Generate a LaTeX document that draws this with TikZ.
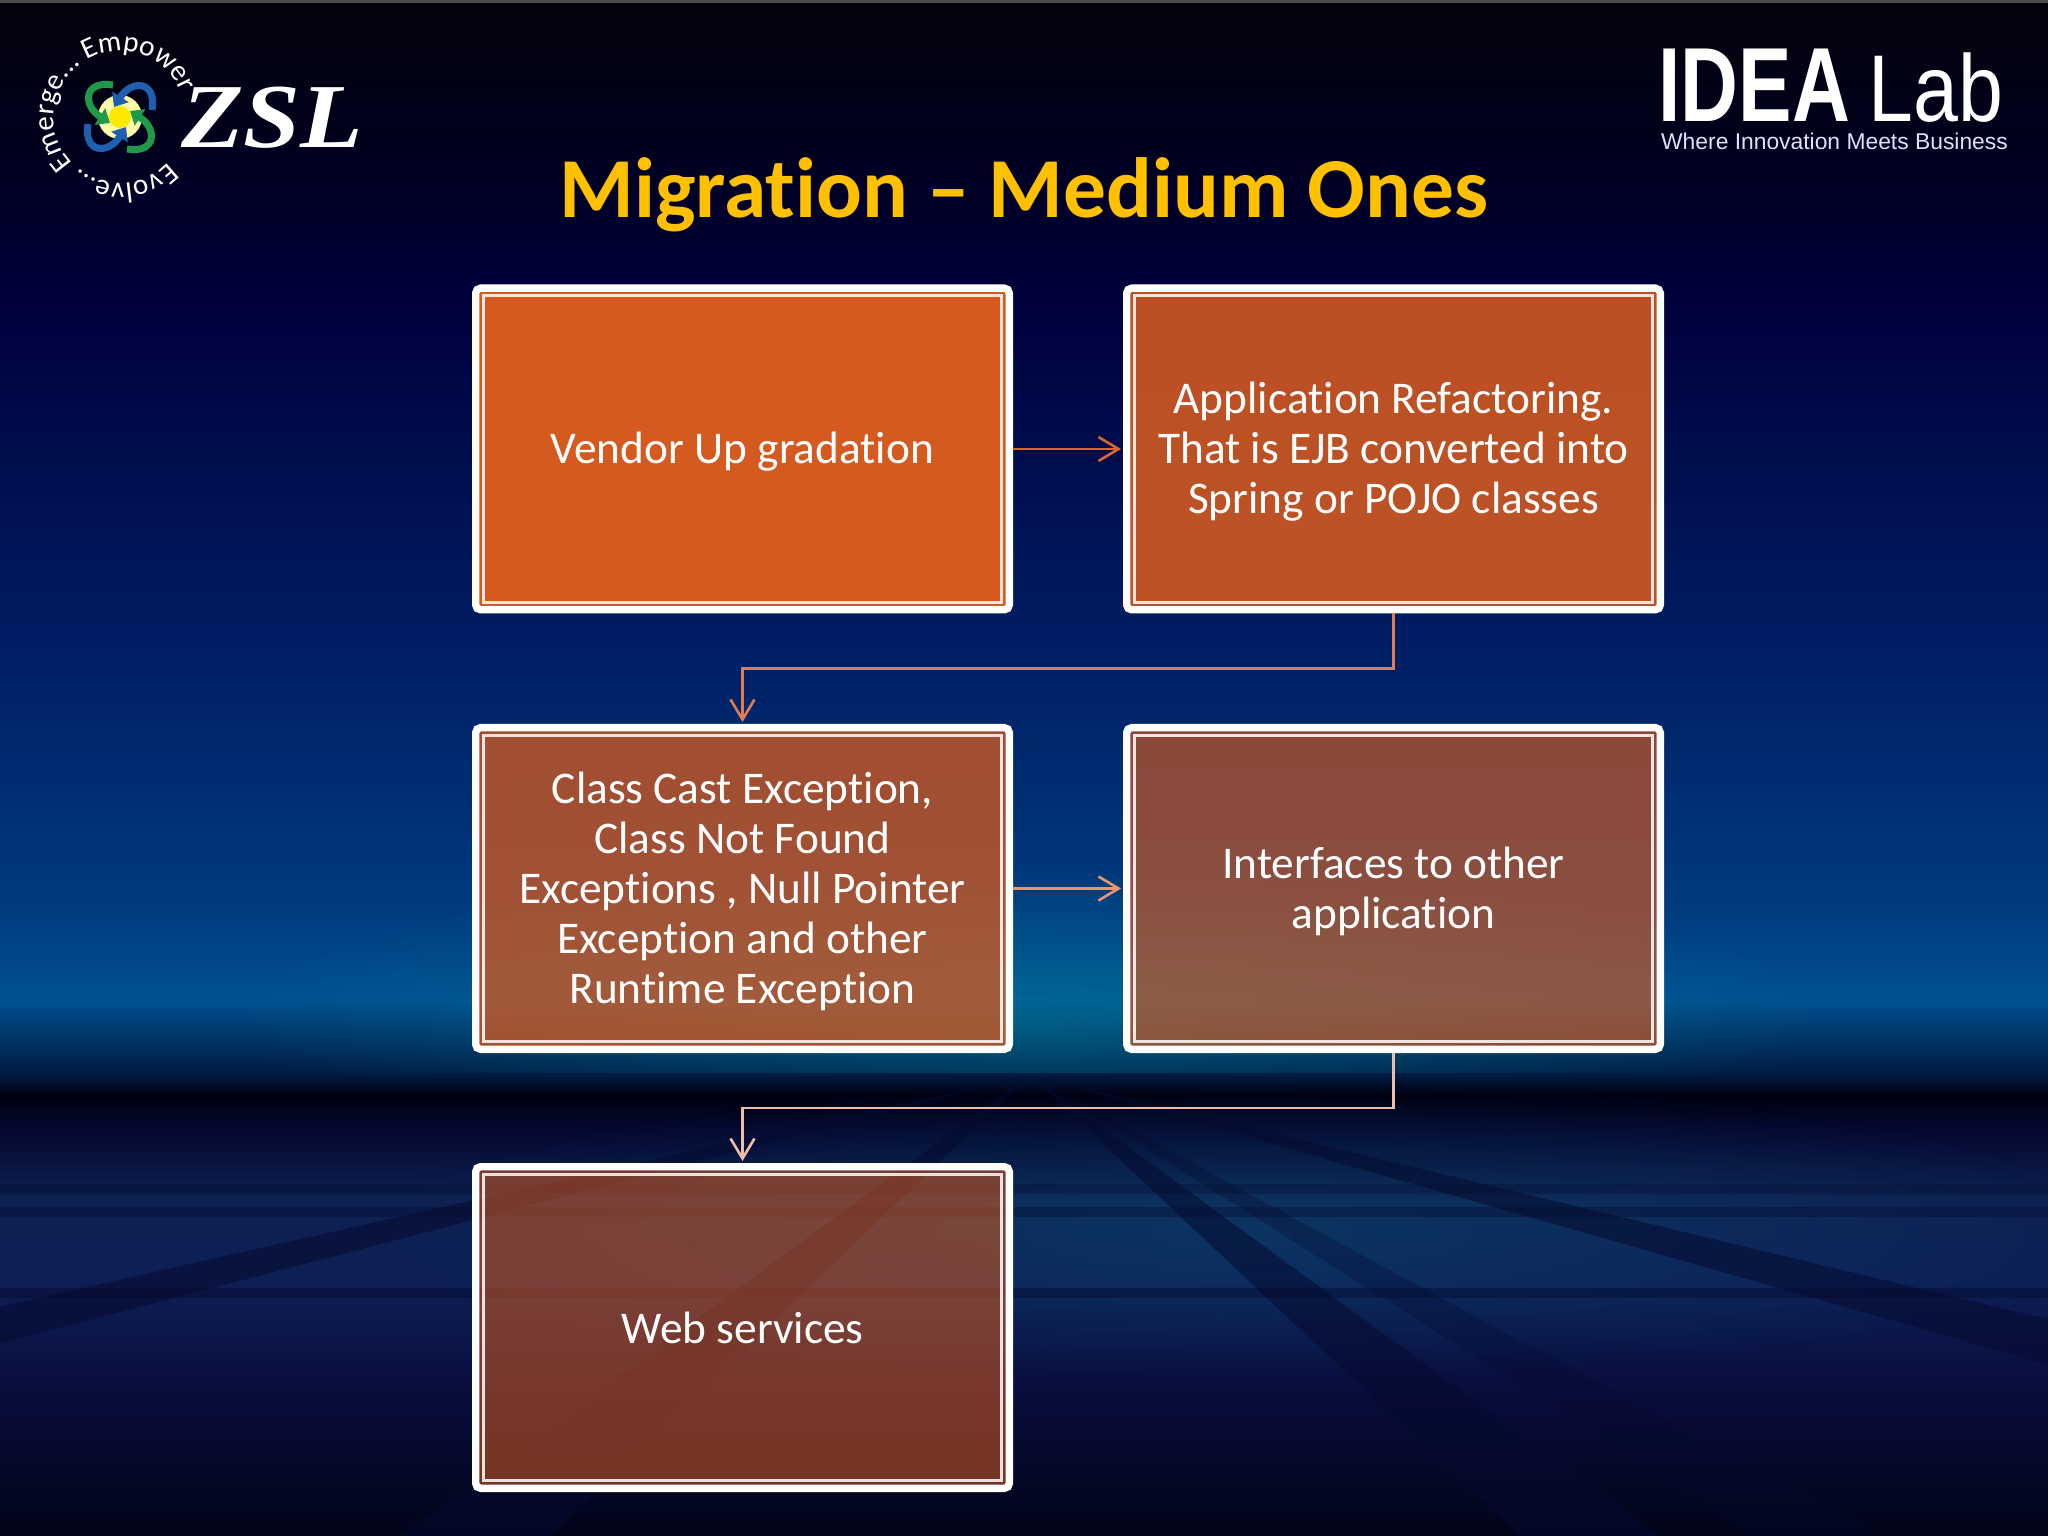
\documentclass[tikz,border=0pt]{standalone}
\usepackage{fontspec}
\setmainfont[Ligatures=NoCommon]{Carlito}
\newfontfamily\zslfont{Liberation Serif}
\newfontfamily\idealab{Liberation Sans}
\usetikzlibrary{arrows.meta, calc, decorations.text, fadings}

\definecolor{boxorange}{HTML}{D45A20}
\definecolor{titlegold}{HTML}{FFC000}
\definecolor{pingreen}{HTML}{1E9A48}
\definecolor{pinblue}{HTML}{1F5FB0}
\definecolor{bandnavy}{HTML}{050A30}
\definecolor{glowteal}{HTML}{008A9E}

% background, bottom to top, the picture runs from 25bp to 75bp
\pgfdeclareverticalshading{slidesky}{100bp}{
  color(0bp)=(rgb,255:red,2;green,4;blue,24);
  color(25bp)=(rgb,255:red,2;green,4;blue,24);
  color(29.43bp)=(rgb,255:red,8;green,12;blue,58);
  color(33.34bp)=(rgb,255:red,14;green,31;blue,85);
  color(35.94bp)=(rgb,255:red,14;green,32;blue,80);
  color(38.22bp)=(rgb,255:red,5;green,8;blue,48);
  color(39.36bp)=(rgb,255:red,0;green,0;blue,16);
  color(40bp)=(rgb,255:red,0;green,26;blue,64);
  color(42.45bp)=(rgb,255:red,0;green,80;blue,143);
  color(45.7bp)=(rgb,255:red,0;green,58;blue,125);
  color(53.85bp)=(rgb,255:red,0;green,30;blue,100);
  color(65.25bp)=(rgb,255:red,0;green,0;blue,60);
  color(70.1bp)=(rgb,255:red,0;green,0;blue,30);
  color(75bp)=(rgb,255:red,3;green,3;blue,12);
  color(100bp)=(rgb,255:red,3;green,3;blue,12)
}
\tikzfading[name=glowfade, inner color=transparent!0, outer color=transparent!100]

\begin{document}
\begin{tikzpicture}[
  stepbox/.style={rectangle, draw=white, line width=.073cm, rounded corners=.05cm,
    fill=boxorange, text=white, text opacity=1, minimum width=5.337cm, minimum height=3.217cm,
    inner sep=0pt, align=center, font=\fontsize{12.9}{14.2}\selectfont,
    path picture={\draw[white, line width=.028cm, draw opacity=.85, sharp corners]
      ($(path picture bounding box.north west)+(.077,-.077)$) rectangle
      ($(path picture bounding box.south east)+(-.077,.077)$);}},
  arr/.style={-{Straight Barb[length=.2cm, width=.24cm]}, line width=.026cm, shorten >=.02cm},
  band/.style={fill=bandnavy, fill opacity=.55},
  swirl/.style={line width=.07cm, -{Triangle[length=.12cm, width=.19cm]}},
]
  \useasboundingbox (0,0) rectangle (20.48,-15.36);
  \begin{scope}
    \clip (0,0) rectangle (20.48,-15.36);
    \fill[shading=slidesky] (0,0) rectangle (20.48,-15.36);
    \fill[black!70!white] (0,0) rectangle (20.48,-.03);

    % glow on the horizon
    \begin{scope}
      \clip (0,-8) rectangle (20.48,-10.72);
      \fill[glowteal, fill opacity=.4, path fading=glowfade] (10.3,-10.2) ellipse (8 and 1.6);
    \end{scope}
    \fill[glowteal, fill opacity=.2, path fading=glowfade] (12.5,-12.3) ellipse (9 and 1.5);

    % floor lines
    \fill[band] (10.3,-10.75) -- (4.0,-15.36) -- (5.5,-15.36) -- cycle;
    \fill[band] (10.3,-10.75) -- (15.2,-15.36) -- (16.6,-15.36) -- cycle;
    \fill[band, fill opacity=.3] (10.3,-10.75) -- (17.6,-15.36) -- (18.8,-15.36) -- cycle;
    \fill[band] (10.3,-10.75) -- (26.5,-15.36) -- (29.5,-15.36) -- cycle;
    \fill[band] (10.3,-10.75) -- (-10.2,-15.36) -- (-7.4,-15.36) -- cycle;
    \fill[band, fill opacity=.3] (0,-11.84) rectangle (20.48,-11.94);
    \fill[band, fill opacity=.35] (0,-12.07) rectangle (20.48,-12.17);
    \fill[band, fill opacity=.45] (0,-12.88) rectangle (20.48,-12.98);
  \end{scope}

  % title
  \node[font=\fontsize{24.3}{26}\selectfont\bfseries, text=titlegold] (title) at (10.24,-1.95) {Migration – Medium Ones};

  % left logo
  \fill[yellow!35!white] (1.2,-1.17) circle (.22);
  \fill[yellow!90!orange] (1.2,-1.17) circle (.11);
  \draw[swirl, pingreen] (1.13,-.85) .. controls (.84,-.8) and (.82,-1.05) .. (1.1,-1.23);
  \draw[swirl, pinblue, rotate around={-90:(1.2,-1.17)}] (1.13,-.85) .. controls (.84,-.8) and (.82,-1.05) .. (1.1,-1.23);
  \draw[swirl, pingreen, rotate around={180:(1.2,-1.17)}] (1.13,-.85) .. controls (.84,-.8) and (.82,-1.05) .. (1.1,-1.23);
  \draw[swirl, pinblue, rotate around={90:(1.2,-1.17)}] (1.13,-.85) .. controls (.84,-.8) and (.82,-1.05) .. (1.1,-1.23);
  \path[decorate, decoration={text along path, text color=white,
    text={|\fontsize{8.3}{10}\selectfont|Emerge... Empower}}]
    (1.2,-1.17) ++(224:.66) arc (224:-20:.66);
  \path[decorate, decoration={text along path, text color=white,
    text={|\fontsize{8.3}{10}\selectfont|Evolve...}}]
    (1.2,-1.17) ++(-43:.66) arc (-43:-170:.66);
  \node[font=\fontsize{26}{26}\zslfont\bfseries\itshape, text=white, xscale=1.12, inner sep=0pt] (zsl) at (2.72,-1.18) {ZSL};

  % right logo
  \node[font=\fontsize{30}{30}\idealab\bfseries, text=white, xscale=.76, inner sep=0pt, anchor=base west] (idea) at (16.58,-1.22) {IDEA};
  \node[font=\fontsize{27}{27}\idealab, text=white, xscale=.85, inner sep=0pt, anchor=base west] (lab) at (18.68,-1.22) {Lab};
  \node[font=\fontsize{6.5}{8}\idealab, text=white!88!blue, inner sep=0pt] (slogan) at (18.345,-1.41) {Where Innovation Meets Business};

  % steps
  \node[stepbox] (vendor) at (7.425,-4.49) {\\[-.128cm]Vendor Up gradation};
  \node[stepbox, fill opacity=.89] (refactor) at (13.935,-4.49) {\\[-.128cm]Application Refactoring.\\That is EJB converted into\\Spring or POJO classes};
  \node[stepbox, fill opacity=.76] (cast) at (7.425,-8.885) {\\[-.128cm]Class Cast Exception,\\Class Not Found\\Exceptions , Null Pointer\\Exception and other\\Runtime Exception};
  \node[stepbox, fill opacity=.66] (iface) at (13.935,-8.885) {\\[-.128cm]Interfaces to other\\application};
  \node[stepbox, fill opacity=.55] (web) at (7.425,-13.275) {Web services};

  \draw[arr, color={rgb,255:red,217;green,101;blue,43}] (vendor) -- (refactor);
  \draw[arr, color={rgb,255:red,224;green,125;blue,80}] (refactor.south) -- ++(0,-.55) -| (cast.north);
  \draw[arr, color={rgb,255:red,232;green,150;blue,110}] (cast) -- (iface);
  \draw[arr, color={rgb,255:red,238;green,190;blue,170}] (iface.south) -- ++(0,-.55) -| (web.north);
\end{tikzpicture}
\end{document}
